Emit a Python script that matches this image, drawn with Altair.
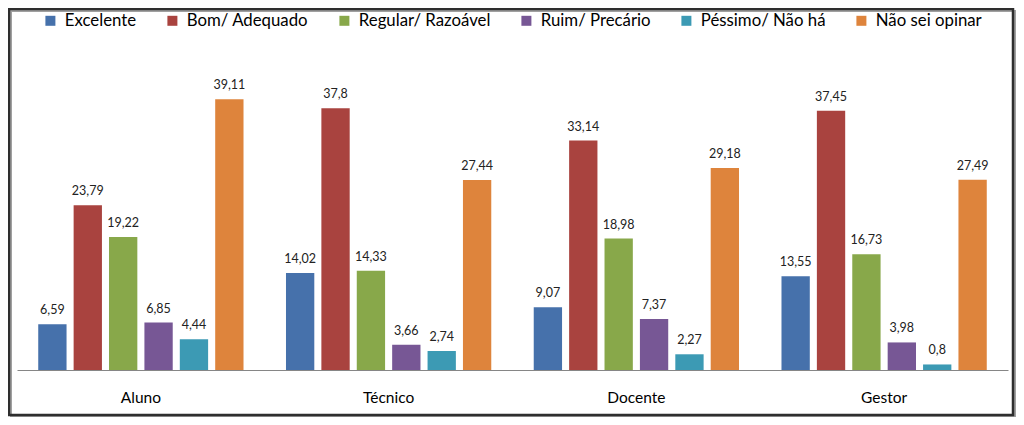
import altair as alt
import pandas as pd

categories = ["Aluno", "Técnico", "Docente", "Gestor"]
series = ["Excelente", "Bom/ Adequado", "Regular/ Razoável", "Ruim/ Precário", "Péssimo/ Não há", "Não sei opinar"]
excelente = [6.59, 14.02, 9.07, 13.55]
bom = [23.79, 37.8, 33.14, 37.45]
regular = [19.22, 14.33, 18.98, 16.73]
ruim = [6.85, 3.66, 7.37, 3.98]
pessimo = [4.44, 2.74, 2.27, 0.8]
nao_sei = [39.11, 27.44, 29.18, 27.49]
colors = ["#4671AB", "#A9433F", "#88A84A", "#775795", "#3C9AB4", "#DE843C"]

values = [excelente, bom, regular, ruim, pessimo, nao_sei]
rows = []
for s, vals in zip(series, values):
    for c, v in zip(categories, vals):
        rows.append({"cat": c, "serie": s, "valor": v, "rotulo": str(v).replace(".", ",")})
df = pd.DataFrame(rows)

FONT = "Lato"

x = alt.X("cat:N", sort=categories, title=None,
          scale=alt.Scale(paddingInner=0, paddingOuter=0),
          axis=alt.Axis(labelAngle=0, ticks=False, domainColor="#868686", domainWidth=1,
                        labelFontSize=15.5, labelFont=FONT, labelColor="#000000", labelPadding=20))
xo = alt.XOffset("serie:N", sort=series, scale=alt.Scale(paddingInner=0.2, paddingOuter=0.6))
y = alt.Y("valor:Q", scale=alt.Scale(domain=[0, 40], nice=False), axis=None)

bars = alt.Chart(df).mark_bar().encode(
    x=x, xOffset=xo, y=y,
    color=alt.Color("serie:N", sort=series, scale=alt.Scale(domain=series, range=colors),
                    legend=alt.Legend(title=None, orient="none", legendX=25, legendY=-81,
                                      direction="horizontal", symbolType="square", symbolSize=100,
                                      symbolStrokeWidth=0, labelFontSize=16.8, labelFont=FONT,
                                      labelColor="#000000", columnPadding=27, labelOffset=6)),
)

text = alt.Chart(df).mark_text(baseline="bottom", dy=-7, fontSize=12.5, font=FONT, color="#222222").encode(
    x=x, xOffset=xo, y=y, text="rotulo:N"
)

frame_df = pd.DataFrame({"a": [0]})
shadow = alt.Chart(frame_df).mark_rect(filled=False, stroke="#a0a0a0", strokeWidth=2).encode(
    x=alt.value(-6), x2=alt.value(998), y=alt.value(-82), y2=alt.value(324)
)
frame = alt.Chart(frame_df).mark_rect(filled=False, stroke="#2e2e2e", strokeWidth=2.5).encode(
    x=alt.value(-8), x2=alt.value(996), y=alt.value(-84), y2=alt.value(322)
)

chart = alt.layer(shadow, frame, bars, text).properties(
    width=991, height=277,
    autosize=alt.AutoSizeParams(type="none"),
    padding={"left": 9, "top": 85, "right": 8, "bottom": 47},
    background="white",
).configure_view(stroke=None)

chart.save("out.html", embed_options={"renderer": "svg", "actions": False})
